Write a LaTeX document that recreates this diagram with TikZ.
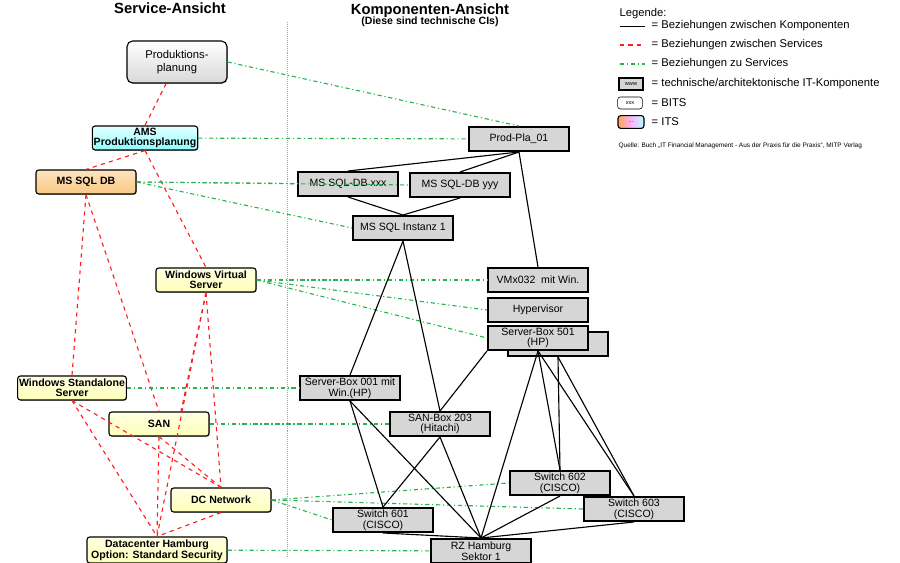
\documentclass[tikz,border=0pt]{standalone}
\usepackage{fontspec}
\setmainfont{Liberation Sans}
\usetikzlibrary{positioning,calc,shadows}
\definecolor{svcred}{RGB}{255,30,30}
\definecolor{svcgreen}{RGB}{40,180,80}
\definecolor{compgray}{RGB}{214,214,214}
\definecolor{peach}{RGB}{250,200,130}
\definecolor{lightyellow}{RGB}{255,255,185}
\begin{document}
\begin{tikzpicture}[x=0.025cm, y=-0.025cm,
    every node/.style={font=\fontsize{7.5}{7.5}\selectfont, align=center, inner sep=1pt},
    comp/.style={draw, line width=1.4pt, fill=compgray, minimum width=2.5cm, minimum height=0.6cm},
    svc/.style={draw, thick, rounded corners=2pt, minimum width=2.5cm, minimum height=0.6cm, font=\fontsize{7.5}{7}\selectfont\bfseries, drop shadow={shadow xshift=0.6pt, shadow yshift=-0.6pt, opacity=0.6}},
    bits/.style={svc, top color=lightyellow!40, bottom color=lightyellow},
    comprel/.style={thick},
    svcrel/.style={svcred, thick, dashed},
    linkrel/.style={svcgreen, thick, dash dot}]

    \useasboundingbox (0,0) rectangle (900,563);

    % Headings
    \node[font=\fontsize{10.5}{10}\selectfont\bfseries] (hsvc) at (170,8) {Service-Ansicht};
    \node[font=\fontsize{10.5}{10}\selectfont\bfseries] (hcomp) at (430,11) {Komponenten-Ansicht};
    \node[font=\fontsize{7.5}{7}\selectfont\bfseries] (hci) at (430,22) {(Diese sind technische CIs)};
    \coordinate (divtop) at (287,22);
    \coordinate (divbot) at (287,557);
    \draw[gray!70, densely dotted] (divtop) -- (divbot);

    % Services
    \node[svc, top color=white, bottom color=gray!30, minimum width=2.5cm, minimum height=1.05cm, font=\fontsize{8}{9}\selectfont, rounded corners=4pt] (Prod) at (177,62) {Produktions-\\planung};
    \node[svc, top color=cyan!10, bottom color=cyan!45] (AMS) at (145,138) {AMS\\Produktionsplanung};
    \node[svc, top color=peach!50, bottom color=peach] (MSSQL) at (86,182) {MS SQL DB};
    \node[bits] (WinV) at (206,280) {Windows Virtual\\Server};
    \node[bits] (WinS) at (72,388) {Windows Standalone\\Server};
    \node[bits] (SAN) at (159,424) {SAN};
    \node[bits] (DCN) at (221,500) {DC Network};
    \node[bits, minimum width=3.5cm, minimum height=0.65cm] (DCH) at (157,550) {Datacenter Hamburg\\Option: Standard Security};

    % Components
    \node[comp] (PP01) at (519,139) {Prod-Pla\_01};
    \node[comp] (SQLx) at (348,184) {MS SQL-DB xxx};
    \node[comp] (SQLy) at (460,185) {MS SQL-DB yyy};
    \node[comp] (Inst) at (403,228) {MS SQL Instanz 1};
    \node[comp] (VMx) at (538,280) {VMx032\ \ mit Win.};
    \node[comp] (Hyp) at (538,310) {Hypervisor};
    \node[comp] (SB501b) at (558,344) {};
    \node[comp] (SB501) at (538,338) {Server-Box 501\\(HP)};
    \node[comp] (SB001) at (350,388) {Server-Box 001 mit\\Win.(HP)};
    \node[comp] (SANB) at (440,424) {SAN-Box 203\\(Hitachi)};
    \node[comp] (SW602) at (560,483) {Switch 602\\(CISCO)};
    \node[comp] (SW603) at (634,509) {Switch 603\\(CISCO)};
    \node[comp] (SW601) at (383,520) {Switch 601\\(CISCO)};
    \node[comp] (RZ) at (481,551) {RZ Hamburg\\Sektor 1};

    % Relations between services
    \begin{scope}[on background layer/.style={}]
    \draw[svcrel] (Prod) -- (AMS.north);
    \draw[svcrel] (AMS.south) -- (MSSQL.north);
    \draw[svcrel] (AMS.south) -- (WinV.north);
    \draw[svcrel] (MSSQL.south) -- (WinS.north);
    \draw[svcrel] (MSSQL.south) -- (SAN.north);
    \draw[svcrel] (WinV.south) -- ($(SAN.north)+(22,0)$);
    \draw[svcrel] (WinV.south) -- (DCN.north);
    \draw[svcrel] (WinV.south) -- (DCH.north);
    \draw[svcrel] (WinS.south) -- (DCN.north);
    \draw[svcrel] (WinS.south) -- (DCH.north);
    \draw[svcrel] (SAN.south) -- (DCN.north);
    \draw[svcrel] (SAN.south) -- (DCH.north);
    \draw[svcrel] (DCN.south) -- (DCH.north);
    \end{scope}

    % Relations to services
    \draw[linkrel] (Prod.east) -- (PP01.north);
    \draw[linkrel] (AMS) -- (PP01);
    \draw[linkrel] (MSSQL.east) -- (SQLx);
    \draw[linkrel] (MSSQL.east) -- (SQLy.west);
    \draw[linkrel] (MSSQL.east) -- (Inst.west);
    \draw[linkrel] (WinV.east) -- (VMx.west);
    \draw[linkrel] (WinV.east) -- (Hyp.west);
    \draw[linkrel] (WinV.east) -- (SB501.west);
    \draw[linkrel] (WinS) -- (SB001);
    \draw[linkrel] (SAN) -- (SANB);
    \draw[linkrel] (DCN.east) -- (SW602.west);
    \draw[linkrel] (DCN.east) -- (SW603.west);
    \draw[linkrel] (DCN.east) -- (SW601.west);
    \draw[linkrel] (DCH) -- (RZ);

    % Relations between components
    \draw[comprel] (PP01.south) -- (SQLx.north);
    \draw[comprel] (PP01.south) -- (SQLy.north);
    \draw[comprel] (PP01.south) -- (VMx.north);
    \draw[comprel] (SQLx.south) -- (Inst.north);
    \draw[comprel] (SQLy.south) -- (Inst.north);
    \draw[comprel] (Inst.south) -- (SB001.north);
    \draw[comprel] (Inst.south) -- (SANB.north);
    \draw[comprel] (SB501.south west) -- (SANB.north);
    \draw[comprel] (SB501.south) -- (RZ.north);
    \draw[comprel] (SB501.south) -- (SW602.north);
    \draw[comprel] (SB501.south) -- (SW603.north);
    \draw[comprel] (SB501b.south) -- (SW602.north);
    \draw[comprel] (SB501b.south) -- (SW603.north);
    \draw[comprel] (SB001.south) -- (SW601.north);
    \draw[comprel] (SB001.south) -- (RZ.north);
    \draw[comprel] (SANB.south) -- (SW601.north);
    \draw[comprel] (SANB.south) -- (RZ.north);
    \draw[comprel] (SW601.south) -- (RZ.north);
    \draw[comprel] (SW602.south) -- (RZ.north);
    \draw[comprel] (SW603.south) -- (RZ.north);

    % Legend
    \node[anchor=west, font=\fontsize{8}{8}\selectfont] (leg) at (618,14) {Legende:};
    \coordinate (l1a) at (620,26); \coordinate (l1b) at (645,26);
    \coordinate (l2a) at (620,45); \coordinate (l2b) at (645,45);
    \coordinate (l3a) at (620,64); \coordinate (l3b) at (645,64);
    \draw[comprel, thin] (l1a) -- (l1b);
    \draw[svcrel] (l2a) -- (l2b);
    \draw[linkrel] (l3a) -- (l3b);
    \node[anchor=west, font=\fontsize{8}{8}\selectfont] (t1) at (650,26) {= Beziehungen zwischen Komponenten};
    \node[anchor=west, font=\fontsize{8}{8}\selectfont] (t2) at (650,45) {= Beziehungen zwischen Services};
    \node[anchor=west, font=\fontsize{8}{8}\selectfont] (t3) at (650,64) {= Beziehungen zu Services};
    \node[draw, thick, fill=compgray, minimum width=0.6cm, minimum height=0.3cm, font=\fontsize{4}{4}\selectfont] (lw) at (631,84) {www};
    \node[draw, rounded corners=2pt, minimum width=0.62cm, minimum height=0.3cm, font=\fontsize{4}{4}\selectfont] (lx) at (630,103) {xxx};
    \node[draw, thick, rounded corners=2pt, minimum width=0.65cm, minimum height=0.32cm, left color=orange!70, right color=cyan!30, middle color=magenta!30, font=\fontsize{4}{4}\selectfont] (li) at (631,122) {...};
    \node[anchor=west, font=\fontsize{8}{8}\selectfont] (t4) at (650,84) {= technische/architektonische IT-Komponente};
    \node[anchor=west, font=\fontsize{8}{8}\selectfont] (t5) at (650,103) {= BITS};
    \node[anchor=west, font=\fontsize{8}{8}\selectfont] (t6) at (650,122) {= ITS};
    \node[anchor=west, font=\fontsize{4.6}{5}\selectfont] (src) at (617,146) {Quelle: Buch „IT Financial Management - Aus der Praxis für die Praxis“, MITP Verlag};

\end{tikzpicture}
\end{document}
